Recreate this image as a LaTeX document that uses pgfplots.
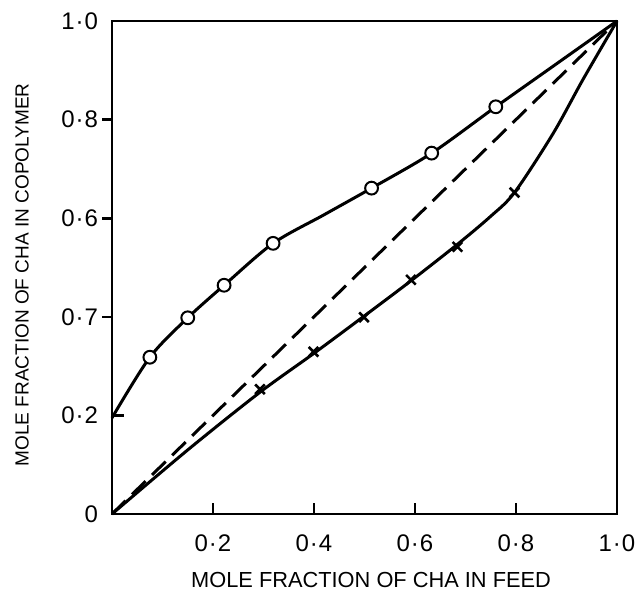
\documentclass[border=0pt]{standalone}
\usepackage{pgfplots}
\pgfplotsset{compat=1.18}
\usepackage{fontspec}
\setmainfont{Liberation Sans}
\begin{document}
\begin{tikzpicture}
\begin{axis}[
  scale only axis,
  width=252.5pt, height=246.5pt,
  xmin=0, xmax=1, ymin=0, ymax=1,
  axis line style={line width=1.2pt},
  tick align=inside,
  xtick={0.2,0.4,0.6,0.8,1.0},
  xticklabels={0·2,0·4,0·6,0·8,1·0},
  ytick={0,0.2,0.4,0.6,0.8,1.0},
  yticklabels={0,0·2,0·7,0·6,0·8,1·0},
  xtick pos=left, ytick pos=left,
  major tick length=5.5pt,
  tick style={draw=none},
  ticklabel style={font=\fontsize{12}{14}\selectfont\addfontfeature{LetterSpace=4}},
  xticklabel style={yshift=-7pt},
  yticklabel style={xshift=-3.5pt},
  xlabel={MOLE FRACTION OF CHA IN FEED},
  ylabel={MOLE FRACTION OF CHA IN COPOLYMER},
  xlabel style={font=\fontsize{10.9}{13}\selectfont, at={(axis description cs:0.513,-0.134)}, anchor=center},
  ylabel style={font=\fontsize{9.5}{12}\selectfont, at={(axis description cs:-0.178,0.485)}, anchor=center},
  clip=false,
]
% upper curve
\addplot[black, line width=1.5pt, smooth, tension=0.5] coordinates {
(0,0.195) (0.075,0.318) (0.150,0.398) (0.222,0.464) (0.319,0.549) (0.42,0.607) (0.514,0.661) (0.633,0.732) (0.760,0.826) (0.88,0.913) (1,1)};
\addplot[only marks, mark=*, mark size=3.2pt, mark options={fill=white, draw=black, line width=1pt}] coordinates {
(0.075,0.318) (0.150,0.398) (0.222,0.464) (0.319,0.549) (0.514,0.661) (0.633,0.732) (0.760,0.826)};
% diagonal
\addplot[black, line width=1.5pt, dash pattern=on 9.5pt off 4.5pt] coordinates {(0,0) (1,1)};
% lower curve
\addplot[black, line width=1.5pt, smooth, tension=0.5] coordinates {
(0,0) (0.15,0.13) (0.293,0.247) (0.4,0.326) (0.5,0.402) (0.592,0.473) (0.684,0.547) (0.75,0.604) (0.797,0.652) (0.873,0.771) (0.933,0.882) (1,1)};
\addplot[only marks, mark=x, mark size=3.4pt, mark options={draw=black, line width=1.3pt}] coordinates {
(0.293,0.253) (0.399,0.329) (0.499,0.399) (0.592,0.475) (0.684,0.542) (0.797,0.652)};
% tick marks
\draw[line width=1.3pt] (axis cs:0.2,0) -- ++(0pt,5.5pt);
\draw[line width=1.3pt] (axis cs:0.4,0) -- ++(0pt,5.5pt);
\draw[line width=1.3pt] (axis cs:0.6,0) -- ++(0pt,5.5pt);
\draw[line width=1.3pt] (axis cs:0.8,0) -- ++(0pt,5.5pt);
\draw[line width=1.3pt] (axis cs:0,0.2) -- ++(6pt,0pt);
\draw[line width=1.3pt] (axis cs:0,0.4) -- ++(-5pt,0pt);
\draw[line width=1.3pt] (axis cs:0,0.6) -- ++(-5pt,0pt);
\draw[line width=1.3pt] (axis cs:0,0.8) -- ++(-5pt,0pt);
\end{axis}
\pgfresetboundingbox
\path ([shift={(-56pt,-44pt)}]current axis.south west) rectangle ([shift={(11pt,10.5pt)}]current axis.north east);
\end{tikzpicture}
\end{document}
